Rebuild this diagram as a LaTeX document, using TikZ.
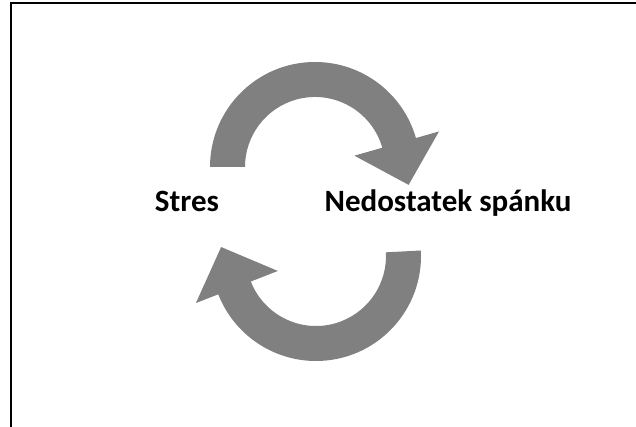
\documentclass[tikz,border=0pt]{standalone}
\usepackage{fontspec}
\setmainfont{Carlito}

\begin{document}
\begin{tikzpicture}[x=1pt, y=1pt, every node/.style={font=\fontsize{31}{37}\selectfont\bfseries, inner sep=0pt, anchor=base}, cyclearrow/.style={fill=gray, draw=none}]
    \useasboundingbox (0,0) rectangle (636,427);
    \draw[line width=2pt] (11,0) -- (11,424) -- (636,424);
    \node (stres) at (187,215) {Stres};
    \node (spanek) at (448,215) {Nedostatek spánku};

    \fill[cyclearrow, shift={(315,260)}] (180:105) arc[start angle=180, end angle=16, radius=105] -- (16:129) -- (-10.8:95.3) -- (16:41) -- (16:70) arc[start angle=16, end angle=180, radius=70] -- cycle;
    \fill[cyclearrow, shift={(316,171)}] (3:105) arc[start angle=3, end angle=-158.6, radius=105] -- (-158.6:129) -- (-185.4:95.3) -- (-158.6:41) -- (-158.6:70) arc[start angle=-158.6, end angle=3, radius=70] -- cycle;
\end{tikzpicture}
\end{document}
